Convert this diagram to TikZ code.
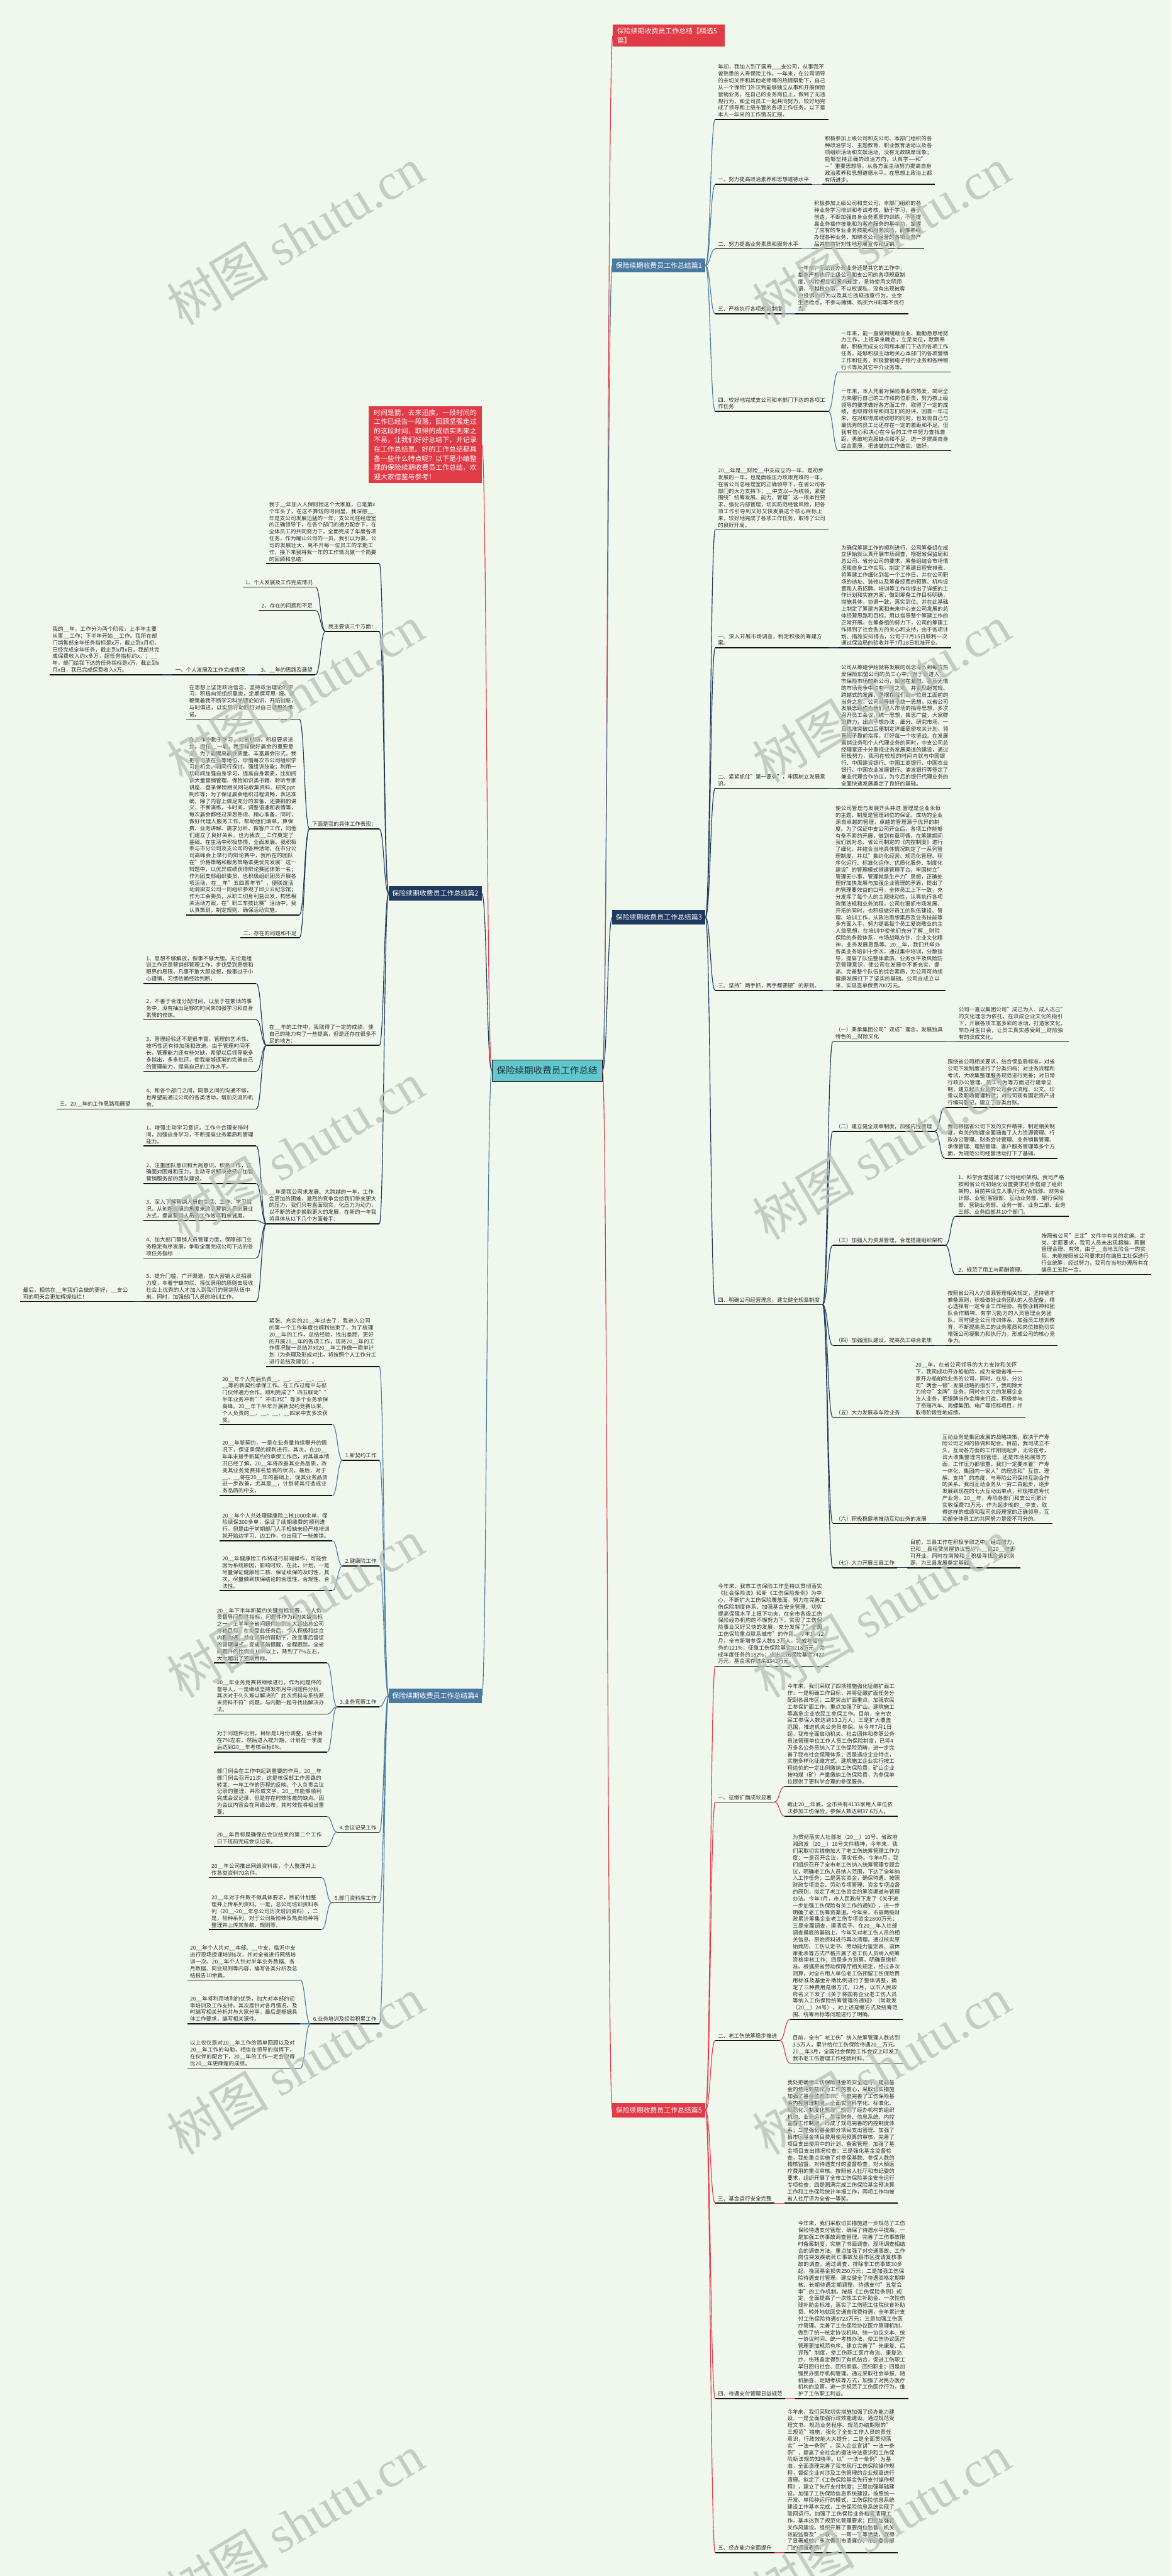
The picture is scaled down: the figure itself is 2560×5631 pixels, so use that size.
\documentclass[tikz,border=0pt]{standalone}
\usepackage{fontspec}
\setmainfont{Noto Sans CJK SC}
\newfontfamily\wmlat{Liberation Serif}
\usetikzlibrary{calc}
\XeTeXlinebreaklocale "zh"
\XeTeXlinebreakskip = 0pt plus 1pt
\definecolor{bgc}{HTML}{F0F8EE}
\definecolor{redc}{HTML}{E13B47}
\definecolor{navyc}{HTML}{1F3A5E}
\definecolor{bluec}{HTML}{4A7AA2}
\definecolor{tealc}{HTML}{61C8CD}
\definecolor{tcol}{HTML}{2B2B2B}
\definecolor{ulc}{HTML}{141414}
\definecolor{wmc}{HTML}{B9C1B9}
\newcommand\cc[3]{\draw[conn,draw=#1] let \p1=(#2), \p2=(#3) in (\p1) .. controls ({(\x1+\x2)/2},\y1) and ({(\x1+\x2)/2},\y2) .. (\p2);}
\begin{document}
\begin{tikzpicture}[x=1pt,y=-1pt,
  txt/.style={font=\fontsize{11.7}{14.9}\selectfont, text=tcol, inner xsep=6pt, inner ysep=4.5pt, align=left},
  para/.style={txt, text width=234.5pt},
  ttl/.style={font=\fontsize{15}{20}\selectfont, text=white, inner xsep=7.5pt, inner ysep=5pt, minimum height=31pt},
  ctrbox/.style={font=\fontsize{20}{24}\selectfont, text={rgb,255:red,30;green,50;blue,60}, fill=tealc, draw=ulc, line width=1pt, minimum width=241pt, minimum height=46pt, inner xsep=10pt},
  introbox/.style={font=\fontsize{15}{20}\selectfont, text=white, fill=redc, text width=225pt, inner xsep=11pt, inner ysep=7pt, align=left},
  ul/.style={line width=2pt, draw=ulc},
  conn/.style={line width=1.6pt},
  wm/.style={font=\fontsize{112}{112}\selectfont, text=wmc, opacity=0.8, rotate=31}
]
\useasboundingbox (0,0) rectangle (2560,5631);
\fill[bgc] (0,0) rectangle (2560,5631);

% ---------------- centre and main branches ----------------
\node[ctrbox] (ctr) at (1195.5,2340) {保险续期收费员工作总结};
\node[ttl, fill=redc, anchor=west, text width=225pt, inner xsep=9.5pt, inner ysep=7pt, align=left] (jx) at (1339,78) {保险续期收费员工作总结【精选5\\篇】};
\node[ttl, fill=bluec, anchor=west] (p1) at (1338,580) {保险续期收费员工作总结篇1};
\node[ttl, fill=navyc, anchor=west] (p3) at (1338,2005) {保险续期收费员工作总结篇3};
\node[ttl, fill=redc, anchor=west] (p5) at (1338,4613) {保险续期收费员工作总结篇5};
\node[ttl, fill=navyc, anchor=east] (p2) at (1053,1953) {保险续期收费员工作总结篇2};
\node[ttl, fill=bluec, anchor=east] (p4) at (1053,3707) {保险续期收费员工作总结篇4};
\node[introbox, anchor=east] (intro) at (1053,972) {时间是箭，去来迅疾，一段时间的工作已经告一段落，回顾坚强走过的这段时间，取得的成绩实则来之不易，让我们好好总结下，并记录在工作总结里。好的工作总结都具备一些什么特点呢？以下是小编整理的保险续期收费员工作总结，欢迎大家借鉴与参考！};

% ---------------- 篇1 ----------------
\node[para, anchor=south west] (c1p) at (1563,261) {年初，我加入到了国寿\_\_\_支公司，从事我不曾熟悉的人寿保险工作。一年来，在公司领导的亲切关怀和其他老师傅的热情帮助下，自己从一个保险门外汉到能够独立从事和开展保险营销业务，在自己的业务岗位上，做到了无违规行为，和全司员工一起共同努力，较好地完成了领导和上级布置的各项工作任务。以下是本人一年来的工作情况汇报。};
\node[txt, anchor=south west] (c1a) at (1563,403) {一、努力提高政治素养和思想道德水平};
\node[para, anchor=south west] (g1a) at ([xshift=22pt]c1a.south east) {积极参加上级公司和支公司、本部门组织的各种政治学习、主题教育、职业教育活动以及各项组织活动和文娱活动，没有无故缺席现象；能够坚持正确的政治方向，认真学----和"---"重要思想等，从各方面主动努力提高自身政治素养和思想道德水平，在思想上政治上都有所进步。};
\node[txt, anchor=south west] (c1b) at (1563,544) {二、努力提高业务素质和服务水平};
\node[para, anchor=south west] (g1b) at ([xshift=22pt]c1b.south east) {积极参加上级公司和支公司、本部门组织的各种业务学习培训和考试考核，勤于学习，善于创造，不断加强自身业务素质的训练，不断提高业务操作技能和为客户服务的基本功，掌握了应有的专业业务技能和服务技巧，能够熟练办理各种业务，知晓本公司经营的各项业务产品并能有针对性地开展宣传和促销。};
\node[txt, anchor=south west] (c1c) at (1563,686) {三、严格执行各项规章制度};
\node[para, anchor=south west] (g1c) at ([xshift=22pt]c1c.south east) {一年来，无论在办理业务还是其它的工作中，都能严格执行上级公司和支公司的各项规章制度、内控规定和服务规定，坚持使用文明用语，不越权办事，不以权谋私，没有出现被客户投诉的行为以及其它违规违章行为。业余生活检点，不参与赌博、购买六H彩等不良行为。};
\node[para, anchor=south west] (c1d) at (1563,899) {四、较好地完成支公司和本部门下达的各项工作任务};
\node[para, anchor=south west] (g1d1) at ($(c1d.south east)+(22,813-899)$) {一年来，能一直做到兢兢业业、勤勤恳恳地努力工作，上班早来晚走，立足岗位，默默奉献，积极完成支公司和本部门下达的各项工作任务。能够积极主动地关心本部门的各项营销工作和任务，积极营销电子银行业务和各种银行卡等及其它中介业务等。};
\node[para, anchor=south west] (g1d2) at ($(c1d.south east)+(22,985-899)$) {一年来，本人凭着对保险事业的热爱，竭尽全力来履行自己的工作和岗位职责，努力按上级领导的要求做好各方面工作，取得了一定的成绩，也取得领导和同志们的好评。回首一年过来，在对取得成绩欣慰的同时，也发现自己与最优秀的员工比还存在一定的差距和不足。但我有信心和决心在今后的工作中努力查找差距，勇敢地克服缺点和不足，进一步提高自身综合素质，把该做的工作做实、做好。};

% ---------------- 篇3 ----------------
\node[para, anchor=south west] (c3p) at (1563,1158) {20\_\_年是\_\_财险\_\_中支成立的一年，是初步发展的一年，也是面临压力攻艰克难的一年，在省公司总经理室的正确领导下，在省公司各部门的大力支持下，\_\_中支以---为统领，紧密围绕"统筹发展、能力、管理"这一根本性要求，强化内部管理，切实防范经营风险，把各项工作引导到又好又快发展这个核心目标上来，较好地完成了各项工作任务，取得了公司的良好开局。};
\node[para, anchor=south west] (c3a) at (1563,1416) {一、深入开展市场调查，制定积极的筹建方案。};
\node[para, anchor=south west] (g3a) at ([xshift=22pt]c3a.south east) {为确保筹建工作的顺利进行，公司筹备组在成立伊始就认真开展市场调查，根据省保监局和总公司、省分公司的要求，筹备组结合市场情况和自身工作实际，制定了筹建日程安排表，将筹建工作细化到每一个工作日，并在公司职场的选址、装修以及筹备经费的预算、机构设置和人员招聘、培训等工作均提出了详细的工作计划和实施方案，做到筹备工作目标明确，措施具体，协调一致，落实到位。并在此基础上制定了筹建方案和未来中心支公司发展的总体经营思路和目标，用以指导整个筹建工作的正常开展。在筹备组的努力下，公司的筹建工作得到了社会各方的关心和支持，由于各项计划、措施安排得当，公司于7月15日顺利一次通过保监局的验收并于7月28日批准开业。};
\node[para, anchor=south west] (c3b) at (1563,1723) {二、紧紧抓住"第一要务"，牢固树立发展意识。};
\node[para, anchor=south west] (g3b) at ([xshift=22pt]c3b.south east) {公司从筹建伊始就将发展的观念深入到每位热爱保险加盟公司的员工心中。对于新进入\_\_市保险市场的新公司，如何在激烈、甚至无情的市场竞争中占有一席之地，并实现超常规、跨越式的发展，是摆在我们每一位员工面前的当务之急，公司领导班子统一思想，以省公司发展思路作为我们切入市场的指导思想，多次召开员工会议，统一思想，集思广益，大家群策群力，出点子想办法，细分、研究市场，一旦找准突破口后便制定详细周密攻关计划，领导班子靠前指挥，打好每一个攻坚战。在发展直销业务和个人代理业务的同时，中支公司总经理室还十分重视业务发展渠道的建设，通过积极努力，我司在较短的时间内就与中国银行、中国建设银行、中国工商银行、中国农业银行、中国农业发展银行、浦发银行等签定了兼业代理合作协议，为今后的银行代理业务的全面快速发展奠定了良好的基础。};
\node[txt, anchor=south west] (c3c) at (1563,2165) {三、坚持"两手抓，两手都要硬"的原则。};
\node[para, anchor=south west] (g3c) at ([xshift=22pt]c3c.south east) {使公司管理与发展齐头并进 管理是企业永恒的主题，制度是管理到位的保证。成功的企业源自卓越的管理，卓越的管理源于优异的制度。为了保证中支公司开业后，各项工作能够有条不紊的开展，做到有章可循，在筹建期间我们就对总、省公司制定的《内控制度》进行了细化，并结合当地具体情况制定了一系列管理制度，并以"集约化经营、规范化管理、程序化运行、标准化运作、优质化服务、制度化建设"的管理模式搭建管理平台，牢固树立"管理无小事，管理就是生产力"思想，正确处理好加快发展与加强企业管理的矛盾，提出了向管理要效益的口号，全体员工上下一致，充分发挥了每个人的主观能动性，认真执行各项政策法规和业务流程，公司在狠抓市场发展、开拓的同时，也积极做好员工的队伍建设、管理、培训工作，从政治思想素质及业务技能等多方面入手，努力提高每个员工爱岗敬业的主人翁思想，在培训中使他们充分了解\_\_财险保险的条款体系，市场战略方针，企业文化精神，业务发展思路等。20\_\_年，我们共举办各类业务培训十余次，通过集中培训，分散指导，提高了队伍整体素质、业务水平及风险防范管理意识，使公司在发展中不断充实、提高、完善整个队伍的综合素质，为公司可持续健康发展打下了坚实的基础。公司自成立以来，实现签单保费700万元。};
\node[txt, anchor=south west] (c3d) at (1563,2852) {四、明确公司经营理念，建立健全规章制度};
\node[para, anchor=south west] (d1) at ($(c3d.south east)+(22,2277-2852)$) {（一）秉承集团公司"双成"理念，发展独具特色的\_\_财险文化};
\node[para, anchor=south west] (dd1) at ([xshift=22pt]d1.south east) {公司一直以集团公司"成己为人、成人达己"的文化理念为依托。在双成企业文化的指引下，开展各项丰富多彩的活动，打造家文化，举办月生日会，让员工真实感受到\_\_财险独有的双成文化。};
\node[txt, anchor=south west] (d2) at ($(c3d.south east)+(22,2473-2852)$) {（二）建立健全规章制度，加强内控管理};
\node[para, anchor=south west] (dd2a) at ($(d2.south east)+(22,2421-2473)$) {围绕省公司相关要求，结合保监局标准，对省公司下发制度进行了分类归档；对业务流程和考试，大收集整理服务规范进行完善；对日常行政办公管理、员工行为等方面进行建章立制，建立起开业后的公司会议流程、公文、印章以及职场管理制度；对公司现有固定资产进行编码登记，建立了各类台账。};
\node[para, anchor=south west] (dd2b) at ($(d2.south east)+(22,2532-2473)$) {我司根据省公司下发的文件精神，制定相关制度，有关的制度全面涵盖了人力资源管理、行政办公管理、财务会计管理、业务销售管理、承保管理、理赔管理、客户服务管理等多个方面，为规范公司经营活动打下了基础。};
\node[txt, anchor=south west] (d3) at ($(c3d.south east)+(22,2722-2852)$) {（三）加强人力资源管理，合理搭建组织架构};
\node[para, anchor=south west] (dd3a) at ($(d3.south east)+(22,2659-2722)$) {1、科学合理搭建了公司组织架构。我司严格按照省公司初始化设置要求初步搭建了组织架构，目前共设立人事/行政/合规部、财务会计部、业管/客服部、互动业务部、银行保险部、营销业务部、业务一部、业务二部、业务三部、业务四部共10个部门。};
\node[txt, anchor=south west] (dd3b) at ($(d3.south east)+(22,2786-2722)$) {2、规范了用工与薪酬管理。};
\node[para, anchor=south west] (ddd3) at ([xshift=22pt]dd3b.south east) {按照省公司"三定"文件中有关的定编、定岗、定薪要求，我司人员未出现超编，薪酬管理合理、有效，由于\_\_当地五险合一的实际，未能按照省公司要求对在编员工社保进行行业统筹，经过努力，我司在当地办理所有在编员工五险一金。};
\node[txt, anchor=south west] (d4) at ($(c3d.south east)+(22,2941-2852)$) {（四）加强团队建设，提高员工综合素质};
\node[para, anchor=south west] (dd4) at ([xshift=22pt]d4.south east) {按照省公司人力资源管理相关规定，坚持德才兼备原则，积极做好业务团队的人员配备，精心选择有一定专业工作经验、有敬业精神和团队合作精神、有学习能力的人员管理业务团队，同时健全公司培训体系，加强员工培训教育，不断提高员工的业务素质和岗位技能切实增强公司凝聚力和执行力，形成公司的核心竞争力。};
\node[txt, anchor=south west] (d5) at ($(c3d.south east)+(22,3098-2852)$) {（五）大力发展非车险业务};
\node[para, anchor=south west] (dd5) at ([xshift=22pt]d5.south east) {20\_\_年，在省公司领导的大力支持和关怀下，我司成功开办船舶险，成为安徽省唯一一家开办船舶险业务的公司。同时，在总、分公司"两金一银"发展战略的指引下，我司除大力抢夺"金牌"业务，同时也大力的发展企业法人业务，把银牌当作金牌来打造，积极参与了奇瑞汽车、海螺集团、电厂等招标项目，并取得阶段性地成绩。};
\node[txt, anchor=south west] (d6) at ($(c3d.south east)+(22,3330-2852)$) {（六）积极稳健地推动互动业务的发展};
\node[para, anchor=south west] (dd6) at ([xshift=22pt]d6.south east) {互动业务是集团发展的战略决策，取决于产寿险公司之间的协调和配合。目前，我司成立不久，互动各方面的工作刚刚起步，无论在考，试大收集整理内部管理，还是市场拓展等方面，工作压力都很重。我们一定要本着"产寿一体化、集团内一家人"的理念和"互信、理解、支持"的态度，与寿险公司保持互助合作的关系。我司互动业务从一穷二白起步，逐步发展到现在的七大互动出单点，积极推进寿代产业务。20\_\_年，寿险各部门和支公司累计实收保费73万元，作为起步晚的\_\_中支，取得这样的成绩和我司总经理室的正确领导，互动部全体员工的共同努力是密不可分的。};
\node[txt, anchor=south west] (d7) at ($(c3d.south east)+(22,3427-2852)$) {（七）大力开展三县工作};
\node[para, anchor=south west] (dd7) at ([xshift=22pt]d7.south east) {目前，三县工作在积极争取之中，经过努力，已和\_\_县租赁房屋协议签订，\_\_县20\_\_年即可开业。同时在南陵和\_\_积极寻找合适的房源，为三县发展奠定基础。};

% ---------------- 篇5 ----------------
\node[para, anchor=south west] (c5p) at (1563,3642) {今年来，我市工伤保险工作坚持以贯彻落实《社会保险法》和新《工伤保险条例》为中心，不断扩大工伤保险覆盖面，努力在完善工伤保险制度体系、加强基金安全管理、切实提高保障水平上狠下功夫，在全市各级工伤保险经办机构的不懈努力下，实现了工伤保险事业又好又快的发展，充分发挥了"全国工伤保险重点联系城市"的作用。今年1—12月，全市新增参保人数6.3万人，完成年度任务的121\%；征缴工伤保险基金8218万元，完成年度任务的182\%；支出工伤保险基金7422万元，基金滚存结余8343万元。};
\node[txt, anchor=south west] (c5a) at (1563,3939) {一、征缴扩面成效显著};
\node[para, anchor=south west] (e1a) at ($(c5a.south east)+(22,3905-3939)$) {今年来，我们采取了四项措施强化征缴扩面工作：一是明确工作目标，并将征缴扩面任务分配到各县市区；二是突出扩面重点，加强农民工参保扩面工作。重点加强了矿山、建筑施工等高危企业农民工参保工作。目前，全市农民工参保人数达到13.2万人；三是扩大覆盖范围，推进机关公务员参保。从今年7月1日起，我市全面启动机关、社会团体和参照公务员法管理单位工作人员工伤保险制度，已将4万多名公务员纳入了工伤保险范畴，进一步完善了我市社会保障体系；四是适应企业特点，实施多样化征缴方式。建筑施工企业实行按工程造价的一定比例缴纳工伤保险费，矿山企业按吨煤（矿）产量缴纳工伤保险费，为参保单位提供了更科学合理的参保服务。};
\node[para, anchor=south west] (e1b) at ($(c5a.south east)+(22,3970-3939)$) {截止20\_\_年底，全市共有4133家用人单位依法参加工伤保险，参保人数达到37.6万人。};
\node[txt, anchor=south west] (c5b) at (1563,4460) {二、老工伤统筹稳步推进};
\node[para, anchor=south west] (e2a) at ($(c5b.south east)+(22,4414-4460)$) {为贯彻落实人社部发（20\_\_）10号、省政府湘政发（20\_\_）16号文件精神，今年来，我们采取切实措施加大了老工伤统筹管理工作力度：一是召开会议，落实任务。今年4月，我们组织召开了全市老工伤纳入统筹管理专题会议，明确老工伤人员纳入范围，下达了全年纳入工作任务；二是落实资金，确保待遇。按照财政专项资金、劳动专项管理、资金专项监督的原则，拟定了老工伤资金的筹资渠道与管理办法。今年7月，市人民政府下发了《关于进一步加强工伤保险有关工作的通知》，进一步明确了老工伤筹资渠道。今年来，市县两级财政累计筹集企业老工伤专项资金2800万元；三是全面调查，摸清底子。在20\_\_年人社部调查摸底的基础上，今年又对老工伤人员的相关信息、原始资料进行再次清理。通过核实原始病历、工伤认定书、劳动能力鉴定表、退休审批表等方式严格开展了老工伤人员纳入统筹资格审核工作；四是多方测算，明确趸缴标准。根据原省劳动保障厅相关规定，经过多次测算，对全市用人单位老工伤预留工伤保险费用标准及基金补助比例进行了整体调整，确定了三种费用趸缴方式，12月，以市人民政府名义下发了《关于将国有企业老工伤人员等纳入工伤保险统筹管理的通知》（常政发〔20\_\_〕24号），对上述趸缴方式及统筹范围、统筹目标等问题进行了明确。};
\node[para, anchor=south west] (e2b) at ($(c5b.south east)+(22,4510-4460)$) {目前，全市"老工伤"纳入统筹管理人数达到3.5万人，累计给付工伤保险待遇20\_\_万元。20\_\_年3月，全国社会保险工作会议上印发了我市老工伤管理工作经验材料。};
\node[txt, anchor=south west] (c5c) at (1563,4816) {三、基金运行安全完整};
\node[para, anchor=south west] (e3) at ([xshift=22pt]c5c.south east) {我处把确保工伤保险基金的安全运行，提高基金的使用效益作为工作的重心，采取切实措施加强了基金监管工作。一是完善了工伤保险基金内控管理制度，全面实施科学化、标准化、规范化、制度化管理，规范了经办机构的组织机构、业务运行、基金财务、信息系统、内控监督工作制度，形成了规范完善的内控制度体系；二是强化基金部分项目支出管理。加强了县市区基金项目费用使用预算的审核，完善了项目支出使用中的计划、备案管理，加强了基金项目支出情况检查；三是强化基金监督检查。我处重点实施了对参保基数、参保人数的稽核监督，对待遇支付的监督检查，对大额医疗费用的重点审核。按照省人社厅和市纪委的要求，组织开展了全市工伤保险基金安全运行专项检查；四是圆满完成工伤保险基金预决算工作和工伤保险统计年报工作，两项工作均被省人社厅评为全省一等奖。};
\node[txt, anchor=south west] (c5d) at (1563,5243) {四、待遇支付管理日益规范};
\node[para, anchor=south west] (e4) at ([xshift=22pt]c5d.south east) {今年来，我们采取切实措施进一步规范了工伤保险待遇支付管理，确保了待遇水平提高。一是加强工伤事故调查管理。完善了工伤事故限时备案制度，实施了书面调查、现场调查相结合的调查方法。重点加强了对交通事故、工作岗位突发疾病死亡事故及县市区提请复核事故的调查。通过调查，排除非工伤事故30多起，挽回基金损失250万元；二是加强工伤保险待遇支付管理。建立健全了待遇资格定期审核、长期待遇定期调整、待遇支付"五堂会审"的工作机制。按新《工伤保险条例》规定，全面提高了一次性工亡补助金、一次性伤残补助金标准，落实了工伤职工住院伙食补助费、转外地就医交通食宿费待遇，全年累计支付工伤保险待遇6723万元；三是加强工伤医疗管理。完善了工伤保险协议医疗管理机制，做到了统一核定协议机构、统一协议文本、统一协议时间、统一考核办法，使工伤协议医疗管理更加规范有序。建立完善了"先康复、后评残"制度，使工伤职工医疗救治、康复治疗、伤残鉴定得到了有机结合，促进工伤职工早日回归社会、回归家庭、回归职业；四是加强民办医疗机构管理。通过采取社会举报、随机抽查、定期考核等方式，加强了对民办医疗机构的监管，进一步规范了工伤医疗行为，维护了工伤职工利益。};
\node[txt, anchor=south west] (c5e) at (1563,5580) {五、经办能力全面提升};
\node[para, anchor=south west] (e5) at ([xshift=22pt]c5e.south east) {今年来，我们采取切实措施加强了经办能力建设。一是全面加强行政效能建设。通过规范受理文书、规范业务程序、规范办结期限的"三规范"措施，强化了全处工作人员的责任意识，行政效能大大提升；二是全面贯彻落实"一法一条例"。深入企业宣讲"一法一条例"，提高了全社会的遵法守法意识和工伤保险新法规的知晓率。以"一法一条例"为基准，全面清理完善了我市现行工伤保险操作规程，督促企业对涉及工伤管理的企业规章进行清理。拟定了《工伤保险基金先行支付操作规程》，建立了先行支付制度；三是加强基础建设。加强了工伤保险信息系统建设。按照统一开发、单险种运行的模式，工伤保险信息系统建设工作基本完成，工伤保险信息系统实现了联网运行。加强了工伤保险业务档案清理工作，基本达到了规范化管理要求；四是加强机关作风建设。组织开展了重要岗位监督、机关效能监察及"一联一、一帮一"等活动，取得了显著成效，多次得到市清廉办、市纪委等部门的通报表扬。};

% ---------------- 篇2 ----------------
\node[para, anchor=south east] (l2p) at (829,1232) {我于\_\_年加入人保财险这个大家庭，已是第x个年头了，在这不算短的时间里，我深感\_\_年是支公司发展迅猛的一年，支公司在经理室的正确领导下，在各个部门的通力配合下，在全体员工的共同努力下，全面完成了年度各项任务，作为耀山公司的一员，我引以为豪，公司的发展壮大，离不开每一位员工的辛勤工作，接下来我将我一年的工作情况做一个简要的回顾和总结：};
\node[txt, anchor=south east] (l2a) at (829,1380) {我主要谈三个方面：};
\node[txt, anchor=south east] (l2a1) at ($(l2a.south west)+(-22,1283-1380)$) {1、个人发展及工作完成情况};
\node[txt, anchor=south east] (l2a2) at ($(l2a.south west)+(-22,1334-1380)$) {2、存在的问题和不足};
\node[txt, anchor=south east] (l2a3) at ($(l2a.south west)+(-22,1475-1380)$) {3、\_\_年的思路及展望};
\node[txt, anchor=south east] (l2a3x) at ([xshift=-22pt]l2a3.south west) {一、个人发展及工作完成情况};
\node[para, anchor=south east] (l2a3xx) at ([xshift=-22pt]l2a3x.south west) {我的\_\_年，工作分为两个阶段，上半年主要从事\_\_工作；下半年开始\_\_工作。我所在部门销售部全年任务指标是x万，截止到x月初，已经完成全年任务，截止到x月x日，我部共完成保费收入约x多万，超任务指标约x，；\_\_年，部门给我下达的任务指标是x万，截止到x月x日，我已完成保费收入x万。};
\node[txt, anchor=south east] (l2b) at (829,1812) {下面是我的具体工作表现：};
\node[para, anchor=south east] (l2b1) at ($(l2b.south west)+(-22,1572-1812)$) {在思想上坚定政治信念，坚持政治理论的学习，积极向党组织靠拢，定期撰写思--报。这鞭策着我不断学习科学理论知识，开拓创新，与时俱进，以实际行动践行对自己理想的承诺。};
\node[para, anchor=south east] (l2b2) at ($(l2b.south west)+(-22,2000-1812)$) {在工作中勤于学习，刻苦钻研，积极要求进步。担任\_\_一职，我深知做好晨会的重要意义，为了能提高晨会质量、丰富晨会形式，我把学习放在头等地位，珍惜每次市公司组织学习的机会，和同行探讨，强组训技能；利用一切时间加强自身学习，提高自身素质，比如阅读大量营销管理、保险知识类书籍、聆听专家讲座、登录保险相关网站收集资料、研究ppt制作等；为了保证晨会组织过程流畅，表达准确，除了内容上做足充分的准备，还要斟酌讲义，不断演练，卡时间，调整语速和表情等，每次晨会都经过深思熟虑、精心准备。同时，做好代理人服务工作，帮助他们填单，算保费、业务讲解、需求分析、做客户工作，同他们建立了良好关系，也为我去\_\_工作奠定了基础。在生活中积极热情，全面发展。我积极参与市分公司及支公司的各种活动，在市分公司高峰会上举行的辩论赛中，我所在的团队在"价格策略和服务策略谁更优先发展"这一辩题中，以优异成绩获得辩论赛团体第一名；作为团支部组织委员，也积极组织团员开展各项活动，在\_\_年"五四青年节"，便联谊活动调梁支公司一同组织参观了邱少云纪念馆；作为工会委员，从职工切身利益出发，构思相关活动方案，在"职工车技比赛"活动中，我认真策划，制定规则，确保活动实施。};
\node[txt, anchor=south east] (l2b3) at ($(l2b.south west)+(-22,2050-1812)$) {二、存在的问题和不足};
\node[para, anchor=south east] (l2c) at (829,2285) {在\_\_年的工作中，我取得了一定的成绩，使自己的能力有了一些提高，但是还存在很多不足的地方：};
\node[para, anchor=south east] (l2c1) at ($(l2c.south west)+(-22,2150-2285)$) {1、思想不够解放，做事不够大胆。无论是组训工作还是营销部管理工作，步伐受到思想和眼界的局限，凡事不敢大胆设想，做事过于小心谨慎，习惯依赖经验判断。};
\node[para, anchor=south east] (l2c2) at ($(l2c.south west)+(-22,2229-2285)$) {2、不善于合理分配时间，以至于在繁琐的事务中，没有抽出足够的时间来加强学习和自身素质的修炼。};
\node[para, anchor=south east] (l2c3) at ($(l2c.south west)+(-22,2342-2285)$) {3、管理经验还不是很丰富，管理的艺术性、技巧性还有待加强和改进。由于管理时间不长，管理能力还有些欠缺，希望以后领导能多多指出，多多批评，使我能够逐渐的完善自己的管理能力，提高自己的工作水平。};
\node[para, anchor=south east] (l2c4) at ($(l2c.south west)+(-22,2424-2285)$) {4、和各个部门之间，同事之间的沟通不够，也希望能通过公司的各类活动，增加交流的机会。};
\node[txt, anchor=south east] (l2c4x) at ([xshift=-22pt]l2c4.south west) {三、20\_\_年的工作思路和展望};
\node[para, anchor=south east] (l2d) at (829,2675) {\_\_年是我公司求发展、大跨越的一年，工作会更加的困难，激烈的竞争会给我们带来更大的压力，我们只有直面现实，化压力为动力，以不断的进步换取更大的发展，在新的一年我将具体从以下几个方面着手：};
\node[para, anchor=south east] (l2d1) at ($(l2d.south west)+(-22,2505-2675)$) {1、增强主动学习意识，工作中合理安排时间，加强自身学习，不断提高业务素质和管理能力。};
\node[para, anchor=south east] (l2d2) at ($(l2d.south west)+(-22,2587-2675)$) {2、注重团队意识和大局意识。积极工作，正确面对困难和压力，主动寻求解决途径，加强营销服务部的团队建设。};
\node[para, anchor=south east] (l2d3) at ($(l2d.south west)+(-22,2668-2675)$) {3、深入了解营销人员的生活、工作、学习情况，从创新发展的角度来改变营销人员的展业方式，提高营销人员的工作效率和忠诚度。};
\node[para, anchor=south east] (l2d4) at ($(l2d.south west)+(-22,2750-2675)$) {4、加大部门营销人员管理力度，保障部门业务稳定有序发展，争取全面完成公司下达的各项任务指标};
\node[para, anchor=south east] (l2d5) at ($(l2d.south west)+(-22,2845-2675)$) {5、提升门槛，广开渠道，加大营销人员招录力度，本着宁缺勿烂、择优录用的原则去吸收社会上优秀的人才加入到我们的营销队伍中来。同时，加强部门人员的培训工作。};
\node[para, anchor=south east] (l2d5x) at ([xshift=-22pt]l2d5.south west) {最后，相信在\_\_年我们会做的更好，\_\_支公司的明天会更加辉煌灿烂！};

% ---------------- 篇4 ----------------
\node[para, anchor=south east] (l4p) at (829,2987) {紧张、充实的20\_\_年过去了，我进入公司的第一个工作年度也顺利结束了，为了梳理20\_\_年的工作，总结经验，找出差距，更好的开展20\_\_年的各项工作，现将20\_\_年的工作情况做一总结并对20\_\_年工作做一简单计划（为条理及形成对比，将按照个人工作分工进行总结及建议）。};
\node[txt, anchor=south east] (l4a) at (829,3192) {1.新契约工作};
\node[para, anchor=south east] (l4a1) at ($(l4a.south west)+(-22,3114-3192)$) {20\_\_年个人先后负责\_\_、\_\_、\_\_、\_\_、\_\_、\_\_等的新契约承保工作。在工作过程中与部门伙伴通力合作，顺利完成了"四五联动""半年业务冲刺""冲击3亿"等多个业务承保高峰。20\_\_年下半年开展新契约竞赛以来，个人负责的\_\_、\_\_、\_\_、\_\_四家中支多次获奖。};
\node[para, anchor=south east] (l4a2) at ($(l4a.south west)+(-22,3269-3192)$) {20\_\_年新契约，一是在业务量持续攀升的情况下，保证承保的顺利进行。其次，在20\_\_年年末接手新契约的承保工作后，对其基本情况已经了解，20\_\_年将改善其业务品质，改变其业务竞赛排名垫底的状况。最后，对于\_\_、\_\_将在20\_\_年的基础上，促其业务品质进一步改善，尤其是\_\_，计划将其打造成业务品质的中支。};
\node[txt, anchor=south east] (l4b) at (829,3423) {2.健康险工作};
\node[para, anchor=south east] (l4b1) at ($(l4b.south west)+(-22,3368-3423)$) {20\_\_年个人共处理健康险二核1000余单，保险续保300多单，保证了续期缴费的顺利进行。但是由于前期部门人手短缺未经严格培训就开始边学习、边工作，也出现了一些差错。};
\node[para, anchor=south east] (l4b2) at ($(l4b.south west)+(-22,3477-3423)$) {20\_\_年健康险工作将进行前端操作，可能会因为系统原因，影响时效，在此，计划，一是尽量保证健康险二核、保证续保的及时性，其次，尽量做到核保结论的合理性、合规性、合法性。};
\node[txt, anchor=south east] (l4c) at (829,3731) {3.业务竞赛工作};
\node[para, anchor=south east] (l4c1) at ($(l4c.south west)+(-22,3635-3731)$) {20\_\_年下半年新契约关键指标竞赛，个人负责督导问题件指标，问题件作为KPI关键指标之一，上半年全省问题件比例大大超出总公司考核目标。在接受此任务后，个人积极和综合内勤沟通，并在领导的帮助下，改变事后督促的管理模式，变成事前提醒，全程跟踪。全省问题件的比例由10\%以上，降到了7\%左右，大大超出了预期目标。};
\node[para, anchor=south east] (l4c2) at ($(l4c.south west)+(-22,3747-3731)$) {20\_\_年业务竞赛将继续进行。作为问题件的督导人，一是继续坚持发布月中问题件分析，其次对于久久难以解决的"此次资料与系统原来资料不符"问题，与内勤一起寻找出解决办法。};
\node[para, anchor=south east] (l4c3) at ($(l4c.south west)+(-22,3830-3731)$) {对于问题件比例，目标是1月份调整，估计会在7\%左右，然后进入提升期，计划在一季度后达到20\_\_年考核目标6\%。};
\node[txt, anchor=south east] (l4d) at (829,4005) {4.会议记录工作};
\node[para, anchor=south east] (l4d1) at ($(l4d.south west)+(-22,3971-4005)$) {部门例会在工作中起到重要的作用，20\_\_年部门例会召开21次，这是核保部工作思路的转变、一年工作的历程的反映。个人负责会议记录的整理，并形成文字。20\_\_年能够顺利完成会议记录，但是存在时效性差的缺点。因为会议内容会在网络公布，其时效性将相当重要。};
\node[para, anchor=south east] (l4d2) at ($(l4d.south west)+(-22,4036-4005)$) {20\_\_年目标是确保在会议结束的第二个工作日下班前完成会议记录。};
\node[txt, anchor=south east] (l4e) at (829,4159) {5.部门资料库工作};
\node[para, anchor=south east] (l4e1) at ($(l4e.south west)+(-22,4104-4159)$) {20\_\_年公司推出网络资料库，个人整理并上传各类资料70余件。};
\node[para, anchor=south east] (l4e2) at ($(l4e.south west)+(-22,4218-4159)$) {20\_\_年对于件数不做具体要求，目前计划整理并上传系列资料。一是，总公司培训资料系列（20\_\_-20\_\_年总公司历次培训资料），二是，险种系列，对于公司新险种及热卖险种将整理并上传其条款、规则等。};
\node[txt, anchor=south east] (l4f) at (829,4424) {6.业务培训及经验积累工作};
\node[para, anchor=south east] (l4f1) at ($(l4f.south west)+(-22,4328-4424)$) {20\_\_年个人共对\_\_本部、\_\_中支、临沂中支进行现场授课培训6次，并对全省进行网络培训一次。20\_\_年个人针对半年业务数据、各月数据、同业规则等内容，编写各类分析及总结报告10余篇。};
\node[para, anchor=south east] (l4f2) at ($(l4f.south west)+(-22,4424-4424)$) {20\_\_年将利用地利的优势，加大对本部的初审培训及工作支持。其次是针对各月情况，及时编写相关分析并与大家分享，最后是根据具体工作要求，编写相关课件。};
\node[para, anchor=south east] (l4f3) at ($(l4f.south west)+(-22,4521-4424)$) {以上仅仅是对20\_\_年工作的简单回顾以及对20\_\_年工作的勾勒，相信在领导的指挥下，在伙伴的配合下，20\_\_年的工作一定会取得比20\_\_年更辉煌的成绩。};

% ---------------- underlines ----------------
\foreach \n in {c1p,c1a,g1a,c1b,g1b,c1c,g1c,c1d,g1d1,g1d2,
  c3p,c3a,g3a,c3b,g3b,c3c,g3c,c3d,d1,dd1,d2,dd2a,dd2b,d3,dd3a,dd3b,ddd3,d4,dd4,d5,dd5,d6,dd6,d7,dd7,
  c5p,c5a,e1a,e1b,c5b,e2a,e2b,c5c,e3,c5d,e4,c5e,e5,
  l2p,l2a,l2a1,l2a2,l2a3,l2a3x,l2a3xx,l2b,l2b1,l2b2,l2b3,l2c,l2c1,l2c2,l2c3,l2c4,l2c4x,l2d,l2d1,l2d2,l2d3,l2d4,l2d5,l2d5x,
  l4p,l4a,l4a1,l4a2,l4b,l4b1,l4b2,l4c,l4c1,l4c2,l4c3,l4d,l4d1,l4d2,l4e,l4e1,l4e2,l4f,l4f1,l4f2,l4f3}
  {\draw[ul] (\n.south west) -- (\n.south east);}

% ---------------- connectors: centre ----------------
\cc{redc}{ctr.east}{jx.west}
\cc{bluec}{ctr.east}{p1.west}
\cc{navyc}{ctr.east}{p3.west}
\cc{redc}{ctr.east}{p5.west}
\cc{redc}{ctr.west}{intro.east}
\cc{navyc}{ctr.west}{p2.east}
\cc{bluec}{ctr.west}{p4.east}

% 篇1
\foreach \t in {c1p,c1a,c1b,c1c,c1d} {\cc{bluec}{p1.east}{\t.south west}}
\cc{bluec}{c1a.south east}{g1a.south west}
\cc{bluec}{c1b.south east}{g1b.south west}
\cc{bluec}{c1c.south east}{g1c.south west}
\cc{bluec}{c1d.south east}{g1d1.south west}
\cc{bluec}{c1d.south east}{g1d2.south west}

% 篇3
\foreach \t in {c3p,c3a,c3b,c3c,c3d} {\cc{navyc}{p3.east}{\t.south west}}
\cc{navyc}{c3a.south east}{g3a.south west}
\cc{navyc}{c3b.south east}{g3b.south west}
\cc{navyc}{c3c.south east}{g3c.south west}
\foreach \t in {d1,d2,d3,d4,d5,d6,d7} {\cc{navyc}{c3d.south east}{\t.south west}}
\cc{navyc}{d1.south east}{dd1.south west}
\cc{navyc}{d2.south east}{dd2a.south west}
\cc{navyc}{d2.south east}{dd2b.south west}
\cc{navyc}{d3.south east}{dd3a.south west}
\cc{navyc}{d3.south east}{dd3b.south west}
\cc{navyc}{dd3b.south east}{ddd3.south west}
\cc{navyc}{d4.south east}{dd4.south west}
\cc{navyc}{d5.south east}{dd5.south west}
\cc{navyc}{d6.south east}{dd6.south west}
\cc{navyc}{d7.south east}{dd7.south west}

% 篇5
\foreach \t in {c5p,c5a,c5b,c5c,c5d,c5e} {\cc{redc}{p5.east}{\t.south west}}
\cc{redc}{c5a.south east}{e1a.south west}
\cc{redc}{c5a.south east}{e1b.south west}
\cc{redc}{c5b.south east}{e2a.south west}
\cc{redc}{c5b.south east}{e2b.south west}
\cc{redc}{c5c.south east}{e3.south west}
\cc{redc}{c5d.south east}{e4.south west}
\cc{redc}{c5e.south east}{e5.south west}

% 篇2
\foreach \t in {l2p,l2a,l2b,l2c,l2d} {\cc{navyc}{p2.west}{\t.south east}}
\foreach \t in {l2a1,l2a2,l2a3} {\cc{navyc}{l2a.south west}{\t.south east}}
\cc{navyc}{l2a3.south west}{l2a3x.south east}
\cc{navyc}{l2a3x.south west}{l2a3xx.south east}
\foreach \t in {l2b1,l2b2,l2b3} {\cc{navyc}{l2b.south west}{\t.south east}}
\foreach \t in {l2c1,l2c2,l2c3,l2c4} {\cc{navyc}{l2c.south west}{\t.south east}}
\cc{navyc}{l2c4.south west}{l2c4x.south east}
\foreach \t in {l2d1,l2d2,l2d3,l2d4,l2d5} {\cc{navyc}{l2d.south west}{\t.south east}}
\cc{navyc}{l2d5.south west}{l2d5x.south east}

% 篇4
\foreach \t in {l4p,l4a,l4b,l4c,l4d,l4e,l4f} {\cc{bluec}{p4.west}{\t.south east}}
\foreach \t in {l4a1,l4a2} {\cc{bluec}{l4a.south west}{\t.south east}}
\foreach \t in {l4b1,l4b2} {\cc{bluec}{l4b.south west}{\t.south east}}
\foreach \t in {l4c1,l4c2,l4c3} {\cc{bluec}{l4c.south west}{\t.south east}}
\foreach \t in {l4d1,l4d2} {\cc{bluec}{l4d.south west}{\t.south east}}
\foreach \t in {l4e1,l4e2} {\cc{bluec}{l4e.south west}{\t.south east}}
\foreach \t in {l4f1,l4f2,l4f3} {\cc{bluec}{l4f.south west}{\t.south east}}

% ---------------- watermark ----------------
\foreach \wx/\wi in {645/a,1926/b}
  \foreach \wy/\wj in {516/1,1516/2,2516/3,3516/4,4516/5,5516/6}
    {\node[wm] (wm\wi\wj) at (\wx,\wy) {树图 {\wmlat shutu.cn}};}
\end{tikzpicture}
\end{document}
